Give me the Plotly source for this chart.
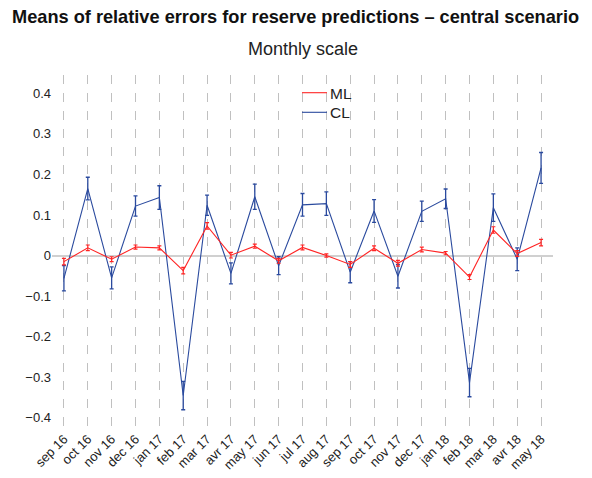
import plotly.graph_objects as go

months = ["sep 16", "oct 16", "nov 16", "dec 16", "jan 17", "feb 17", "mar 17", "avr 17",
          "may 17", "jun 17", "jul 17", "aug 17", "sep 17", "oct 17", "nov 17", "dec 17",
          "jan 18", "feb 18", "mar 18", "avr 18", "may 18"]

ml_mean = [-0.015, 0.019, -0.009, 0.021, 0.019, -0.037, 0.073, 0.001, 0.023, -0.013, 0.020,
           0.000, -0.022, 0.018, -0.019, 0.015, 0.006, -0.053, 0.063, 0.005, 0.032]
ml_err = [0.008, 0.007, 0.006, 0.005, 0.005, 0.008, 0.008, 0.007, 0.005, 0.006, 0.006,
          0.004, 0.007, 0.006, 0.007, 0.006, 0.004, 0.006, 0.008, 0.007, 0.008]

cl_mean = [-0.056, 0.165, -0.055, 0.122, 0.143, -0.345, 0.124, -0.044, 0.145, -0.025, 0.125,
           0.128, -0.041, 0.110, -0.051, 0.109, 0.140, -0.313, 0.118, -0.009, 0.216]
cl_err = [0.031, 0.028, 0.027, 0.025, 0.029, 0.035, 0.025, 0.026, 0.031, 0.022, 0.028,
          0.029, 0.026, 0.028, 0.029, 0.025, 0.024, 0.035, 0.034, 0.028, 0.038]

y_ticks = [0.4, 0.3, 0.2, 0.1, 0, -0.1, -0.2, -0.3, -0.4]

RED = "#ff2424"
BLUE = "#2a4a9e"
FONT = "Liberation Sans, Arial, sans-serif"

# page body has an 8px margin, so the figure is offset by 8px in the window
OFF = 8
W, H = 592, 478
PL, PR, PT, PB = 52 - OFF, 553 - OFF, 75 - OFF, 428 - OFF   # plot area in figure px
PW, PH = PR - PL, PB - PT


def px_x(vx):
    return (vx - OFF - PL) / PW


def px_y(vy):
    return 1 - (vy - OFF - PT) / PH


fig = go.Figure()
fig.add_trace(go.Scatter(
    x=months, y=cl_mean, name="CL", mode="lines",
    line=dict(color=BLUE, width=1.1),
    error_y=dict(type="data", array=cl_err, color=BLUE, thickness=1.3, width=2),
))
fig.add_trace(go.Scatter(
    x=months, y=ml_mean, name="ML", mode="lines",
    line=dict(color=RED, width=1.1),
    error_y=dict(type="data", array=ml_err, color=RED, thickness=1.2, width=2),
))

legend_items = [("ML", RED, 92.7), ("CL", BLUE, 112.3)]
shapes = []
annotations = [dict(text="Monthly scale", x=0.5, xref="paper", y=px_y(49), yref="paper",
                    xanchor="center", yanchor="middle", showarrow=False,
                    font=dict(family=FONT, size=18, color="#222"))]
for name, col, vy in legend_items:
    shapes.append(dict(type="line", xref="paper", yref="paper",
                       x0=px_x(302), x1=px_x(327), y0=px_y(vy), y1=px_y(vy),
                       line=dict(color=col, width=1.1)))
    annotations.append(dict(text=name, x=px_x(327.5), xref="paper", y=px_y(vy + 0.5), yref="paper",
                            xanchor="left", yanchor="middle", showarrow=False,
                            font=dict(family=FONT, size=15.5, color="#222")))

fig.update_layout(
    width=W, height=H,
    margin=dict(l=PL, r=W - PR, t=PT, b=H - PB, autoexpand=False),
    paper_bgcolor="white", plot_bgcolor="white",
    font=dict(family=FONT, size=13, color="#222"),
    title=dict(text="<b>Means of relative errors for reserve predictions \u2013 central scenario</b>",
               x=(12 - OFF) / W, xanchor="left", xref="container",
               y=1 - (16.5 - OFF) / H, yanchor="middle", yref="container",
               font=dict(family=FONT, size=18.2, color="#111")),
    showlegend=False,
    shapes=shapes,
    annotations=annotations,
)

fig.update_xaxes(
    type="category", range=[-0.5, 20.5], tickangle=-45,
    showgrid=True, gridcolor="#c0c0c0", griddash="dash", gridwidth=1,
    showline=False, zeroline=False, ticks="", automargin=False,
    tickfont=dict(family=FONT, size=13, color="#222"),
)
fig.update_yaxes(
    range=[-0.425, 0.445], tickvals=y_ticks,
    ticktext=[("\u2212" + str(abs(v)) if v < 0 else str(v)) for v in y_ticks],
    showgrid=False, zeroline=True, zerolinecolor="#d0d0d0", zerolinewidth=2,
    showline=False, ticks="", automargin=False,
    tickfont=dict(family=FONT, size=13, color="#222"),
)

fig.write_html("out.html")
